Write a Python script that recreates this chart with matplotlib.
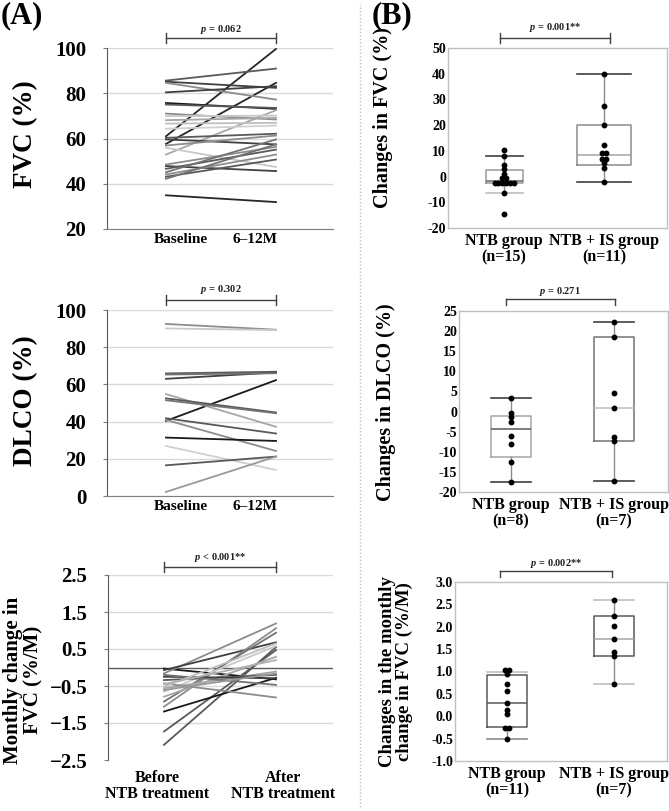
import numpy as np
import matplotlib
matplotlib.use("Agg")
import matplotlib.pyplot as plt
from matplotlib.lines import Line2D
from matplotlib.transforms import ScaledTranslation, blended_transform_factory

plt.rcParams['font.family'] = ['Liberation Serif', 'DejaVu Serif']
plt.rcParams['font.weight'] = 'bold'
plt.rcParams['mathtext.fontset'] = 'custom'
plt.rcParams['mathtext.it'] = 'Liberation Serif:italic:bold'
plt.rcParams['mathtext.rm'] = 'Liberation Serif:bold'

# ---------------- data ----------------
a_time_labels = ["Baseline", "6\u201312M"]
a3_time_labels = ["Before\nNTB treatment", "After\nNTB treatment"]

fvc_baseline = [61.0, 57.6, 34.9, 85.6, 85.1, 84.6, 80.4, 75.7, 75.0, 52.9, 71.0, 69.9, 68.1,
                66.6, 64.3, 60.3, 59.6, 56.9, 55.9, 48.5, 47.8, 46.6, 45.1, 44.1, 43.1, 42.2]
fvc_followup = [99.6, 84.6, 31.9, 90.9, 82.4, 77.2, 83.1, 73.1, 73.5, 72.5, 68.4, 70.1, 69.1,
                66.9, 65.7, 62.1, 57.4, 61.3, 47.4, 56.3, 45.6, 55.1, 59.6, 52.9, 50.7, 57.4]
fvc_shades = ['#262626', '#262626', '#262626', '#595959', '#404040', '#8c8c8c', '#404040',
              '#1a1a1a', '#595959', '#a6a6a6', '#8c8c8c', '#c8c8c8', '#a6a6a6', '#bfbfbf',
              '#d0d0d0', '#595959', '#404040', '#8c8c8c', '#c8c8c8', '#8c8c8c', '#404040',
              '#595959', '#737373', '#8c8c8c', '#595959', '#737373']

dlco_baseline = [92.5, 90.1, 65.9, 63.0, 40.4, 54.8, 52.5, 51.5, 41.8, 40.9, 31.4, 26.9, 16.5, 2.2, 65.3]
dlco_followup = [89.4, 89.2, 66.8, 66.4, 62.3, 37.2, 44.9, 44.5, 33.6, 24.2, 29.6, 14.0, 21.2, 21.2, 66.0]
dlco_shades = ['#8c8c8c', '#c8c8c8', '#595959', '#404040', '#1a1a1a', '#a6a6a6', '#595959',
               '#737373', '#595959', '#8c8c8c', '#1a1a1a', '#d0d0d0', '#595959', '#999999', '#737373']

mc_before = [-0.03, -0.16, -0.07, -2.09, -1.73, -1.19, -1.06, -0.92, -0.79, -0.65, -0.56,
             -0.43, -0.34, -0.25, -0.20, -0.52, -0.61, -0.45]
mc_after = [-0.32, 1.19, 0.68, 0.55, 0.47, -0.28, 1.06, 0.94, 0.29, 0.58, -0.11,
            -0.81, -0.20, -0.29, -0.47, 0.65, -0.16, 0.20]
mc_shades = ['#1a1a1a', '#8c8c8c', '#404040', '#595959', '#595959', '#1a1a1a', '#8c8c8c',
             '#737373', '#a6a6a6', '#c8c8c8', '#a6a6a6', '#8c8c8c', '#595959', '#404040',
             '#737373', '#bfbfbf', '#999999', '#b0b0b0']

b_groups = [["NTB group\n(n=15)", "NTB + IS group\n(n=11)"],
            ["NTB group\n(n=8)", "NTB + IS group\n(n=7)"],
            ["NTB group\n(n=11)", "NTB + IS group\n(n=7)"]]

b1_ntb = [10.2, 8.1, 4.5, 2.8, 1.1, -0.7, -0.7, -2.4, -2.4, -2.4, -2.4, -2.4, -2.4, -6.4, -14.4]
b1_is = [39.8, 27.4, 19.9, 12.4, 9.2, 9.2, 6.8, 6.8, 5.2, 3.3, -2.2]
b1_stats = [dict(q1=-2.4, med=-1.9, q3=2.4, whislo=-6.4, whishi=8.1),
            dict(q1=4.6, med=8.5, q3=19.9, whislo=-2.2, whishi=39.8)]

b2_ntb = [3.3, -0.4, -1.4, -2.5, -6.0, -8.1, -12.6, -17.5]
b2_is = [22.2, 18.6, 4.5, 1.0, -6.4, -7.4, -17.3]
b2_stats = [dict(q1=-11.4, med=-4.4, q3=-1.2, whislo=-17.5, whishi=3.3),
            dict(q1=-7.4, med=1.0, q3=18.6, whislo=-17.3, whishi=22.2)]

b3_ntb = [1.04, 1.04, 0.94, 0.73, 0.57, 0.30, 0.15, 0.06, -0.26, -0.26, -0.50]
b3_is = [2.60, 2.25, 2.01, 1.73, 1.44, 1.34, 0.73]
b3_stats = [dict(q1=-0.25, med=0.29, q3=0.93, whislo=-0.50, whishi=0.99),
            dict(q1=1.34, med=1.73, q3=2.25, whislo=0.73, whishi=2.60)]

p_texts = ["$p$ = 0.062", "$p$ = 0.302", "$p$ < 0.001**",
           "$p$ = 0.001**", "$p$ = 0.271", "$p$ = 0.002**"]

# ---------------- layout ----------------
W, H = 669, 811
fig = plt.figure(figsize=(W / 100, H / 100), dpi=100)


def px_axes(l, t, r, b):
    return fig.add_axes([l / W, 1 - b / H, (r - l) / W, (b - t) / H])


def bracket(ax, x0, x1, label, gap_px, up_px, down_px, text_px):
    h = ax.get_position().height * H
    tr = blended_transform_factory(ax.transData, ax.transAxes)
    y = 1 + gap_px / h
    kw = dict(color='#404040', lw=1.0, transform=tr, clip_on=False)
    ax.plot([x0, x1], [y, y], **kw)
    for x in (x0, x1):
        ax.plot([x, x], [y - down_px / h, y + up_px / h], **kw)
    ax.text((x0 + x1) / 2, y + text_px / h, label, transform=tr, ha='center', va='center',
            fontsize=7.5, fontweight='bold', color='#202020')


def style_a(ax, yticks, ylim, xlim, bottom_color):
    for s in ['top', 'right']:
        ax.spines[s].set_visible(False)
    ax.spines['left'].set_color('#595959')
    ax.spines['bottom'].set_color(bottom_color)
    ax.set_ylim(*ylim)
    ax.set_xlim(*xlim)
    ax.set_yticks(yticks)
    ax.yaxis.grid(True, color='#d9d9d9', lw=1.0)
    ax.set_axisbelow(True)
    ax.tick_params(axis='y', length=3, color='#7f7f7f', pad=12, labelsize=15)
    ax.tick_params(axis='x', length=0)


def shift_labels(ax, shifts):
    for lab, dx in zip(ax.get_xticklabels(), shifts):
        lab.set_transform(lab.get_transform() + ScaledTranslation(dx / 100, 0, fig.dpi_scale_trans))


# ---- A1 ----
A1 = px_axes(107, 48, 333, 229)
for b0, b1v, c in zip(fvc_baseline, fvc_followup, fvc_shades):
    A1.plot([0, 1], [b0, b1v], color=c, lw=1.3)
style_a(A1, [20, 40, 60, 80, 100], (20, 100), (-0.536, 1.518), '#7f7f7f')
A1.set_xticks([0, 1])
A1.set_xticklabels(a_time_labels, fontsize=11, fontweight='bold')
A1.tick_params(axis='x', pad=3)
shift_labels(A1, [15, -21])
bracket(A1, 0, 1, p_texts[0], 10, 5, 5, 9)

# ---- A2 ----
A2 = px_axes(107, 310, 333, 496)
for b0, b1v, c in zip(dlco_baseline, dlco_followup, dlco_shades):
    A2.plot([0, 1], [b0, b1v], color=c, lw=1.3)
style_a(A2, [0, 20, 40, 60, 80, 100], (0, 100), (-0.536, 1.518), '#7f7f7f')
A2.set_xticks([0, 1])
A2.set_xticklabels(a_time_labels, fontsize=11, fontweight='bold')
A2.tick_params(axis='x', pad=3)
shift_labels(A2, [15, -21])
bracket(A2, 0, 1, p_texts[1], 10, 5, 5, 10)

# ---- A3 ----
A3 = px_axes(108, 575, 333, 760)
for b0, b1v, c in zip(mc_before, mc_after, mc_shades):
    A3.plot([0, 1], [b0, b1v], color=c, lw=1.3)
style_a(A3, [-2.5, -1.5, -0.5, 0.5, 1.5, 2.5], (-2.5, 2.5), (-0.5, 1.509), '#7f7f7f')
A3.spines['bottom'].set_visible(False)
A3.get_ygridlines()[0].set_visible(False)
A3.axhline(0, color='#595959', lw=1.0, zorder=1)
A3.set_xticks([0, 1])
A3.set_xticklabels(a3_time_labels, fontsize=11.5, fontweight='bold', linespacing=1.05)
A3.tick_params(axis='x', pad=7)
shift_labels(A3, [-7, 7])
bracket(A3, 0, 1, p_texts[2], 8, 5, 5, 10)


# ---- B panels ----
def swarm(vals, pos, spacing):
    vals = np.asarray(vals)
    xs = np.zeros(len(vals))
    for v in np.unique(vals):
        idx = np.where(vals == v)[0]
        n = len(idx)
        xs[idx] = pos + (np.arange(n) - (n - 1) / 2) * spacing
    return xs


def style_b(ax, yticks, ylim, xlim, fmt):
    for s in ax.spines.values():
        s.set_color('#bfbfbf')
        s.set_linewidth(1.0)
    ax.set_ylim(*ylim)
    ax.set_xlim(*xlim)
    ax.set_yticks(yticks)
    ax.set_yticklabels([fmt.format(t) for t in yticks], fontsize=10, fontweight='bold')
    ax.tick_params(axis='y', length=0, pad=1.5)
    ax.tick_params(axis='x', length=0, pad=3.5)


def draw_b(ax, stats, groups, widths, series, box_cols, med_cols, cap_cols):
    art = ax.bxp(stats, positions=[1, 2], widths=widths, capwidths=widths, showfliers=False,
                 boxprops=dict(lw=1.1), medianprops=dict(lw=1.1),
                 whiskerprops=dict(color='#8c8c8c', lw=1.0), capprops=dict(lw=1.2))
    for i in range(2):
        art['boxes'][i].set_color(box_cols[i])
        art['medians'][i].set_color(med_cols[i])
        art['caps'][2 * i].set_color(cap_cols[i][0])
        art['caps'][2 * i + 1].set_color(cap_cols[i][1])
    for pos, vals in zip([1, 2], series):
        ax.plot(swarm(vals, pos, 0.038), vals, 'o', color='black', ms=3.2, zorder=5)
    ax.set_xticks([1, 2])
    ax.set_xticklabels(groups, fontsize=11.5, fontweight='bold', linespacing=1.05)


B1 = px_axes(448, 48, 667, 228)
draw_b(B1, b1_stats, b_groups[0], [0.37, 0.54], [b1_ntb, b1_is],
       ['#999999', '#8c8c8c'], ['#666666', '#a6a6a6'],
       [('#bfbfbf', '#404040'), ('#404040', '#404040')])
style_b(B1, list(range(-20, 51, 10)), (-20, 50), (0.44, 2.63), "{:d}")
bracket(B1, 0.96, 2.06, p_texts[3], 10, 5, 5, 10)

B2 = px_axes(459, 311, 668, 492)
draw_b(B2, b2_stats, b_groups[1], [0.39, 0.39], [b2_ntb, b2_is],
       ['#a6a6a6', '#737373'], ['#595959', '#bfbfbf'],
       [('#404040', '#404040'), ('#404040', '#404040')])
style_b(B2, list(range(-20, 26, 5)), (-20, 25), (0.498, 2.527), "{:d}")
bracket(B2, 0.95, 2.01, p_texts[4], 12, 0, 6, 8)

B3 = px_axes(455, 582, 667, 761)
draw_b(B3, b3_stats, b_groups[2], [0.375, 0.375], [b3_ntb, b3_is],
       ['#595959', '#595959'], ['#595959', '#a6a6a6'],
       [('#8c8c8c', '#bfbfbf'), ('#bfbfbf', '#bfbfbf')])
style_b(B3, [-1.0, -0.5, 0.0, 0.5, 1.0, 1.5, 2.0, 2.5, 3.0], (-1.0, 3.0), (0.51, 2.497), "{:.1f}")
bracket(B3, 0.93, 1.98, p_texts[5], 11, 0, 6, 8)

# ---- labels ----
def ftext(x, y, s, **kw):
    fig.text(x / W, 1 - y / H, s, fontweight='bold', **kw)

ftext(26, 134, "FVC (%)", rotation=90, ha='center', va='center', fontsize=19.5)
ftext(26, 401, "DLCO (%)", rotation=90, ha='center', va='center', fontsize=19.5)
ftext(23, 680, "Monthly change in\nFVC (%/M)", rotation=90, ha='center', va='center',
      fontsize=15, linespacing=1.05)
ftext(383, 118, "Changes in FVC (%)", rotation=90, ha='center', va='center', fontsize=14.5)
ftext(386, 402, "Changes in DLCO (%)", rotation=90, ha='center', va='center', fontsize=14.5)
ftext(396, 672, "Changes in the monthly\nchange in FVC (%/M)", rotation=90, ha='center',
      va='center', fontsize=13.5, linespacing=1.05)
ftext(1, 1, "(A)", ha='left', va='top', fontsize=22)
ftext(372, 1, "(B)", ha='left', va='top', fontsize=22)

fig.add_artist(Line2D([360 / W, 360 / W], [0.005, 0.995], transform=fig.transFigure,
                      color='#c0c0c0', lw=1.0, linestyle=(0, (1, 1.5))))

fig.savefig("out.png", dpi=100)
